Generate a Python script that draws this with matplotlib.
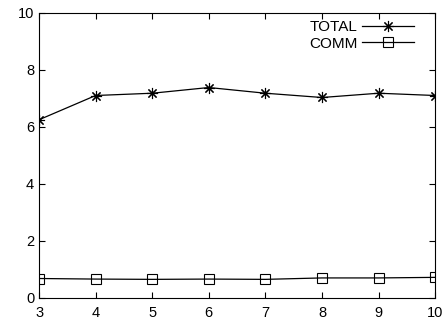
import matplotlib
matplotlib.use("Agg")
import matplotlib.pyplot as plt

plt.rcParams['font.family'] = ['Liberation Sans', 'DejaVu Sans']

# data
x = [3, 4, 5, 6, 7, 8, 9, 10]
total = [6.25, 7.10, 7.18, 7.38, 7.18, 7.03, 7.18, 7.10]
comm = [0.68, 0.66, 0.65, 0.66, 0.65, 0.70, 0.70, 0.72]

fig = plt.figure(figsize=(4.44, 3.21), dpi=100)
ax = fig.add_axes([0.088, 0.072, 0.892, 0.888])

ax.plot(x, total, color='black', lw=0.9, marker=(8, 2, 0), ms=8, mew=0.8, label='TOTAL')
ax.plot(x, comm, color='black', lw=0.9, marker='s', ms=7, mfc='none', mew=0.8, label='COMM')

ax.set_xlim(3, 10)
ax.set_ylim(0, 10)
ax.set_xticks(x)
ax.set_yticks([0, 2, 4, 6, 8, 10])
ax.tick_params(direction='in', top=True, right=True, labelsize=10.5, length=4, width=0.8)
ax.tick_params(axis='x', pad=6)
for s in ax.spines.values():
    s.set_linewidth(0.8)

ax.legend(loc='upper right', frameon=False, markerfirst=False, fontsize=11,
          handlelength=3.4, labelspacing=0.15, borderaxespad=0.3, borderpad=0.2,
          handletextpad=0.3, bbox_to_anchor=(0.967, 1.0))

fig.savefig('out.png', dpi=100)
